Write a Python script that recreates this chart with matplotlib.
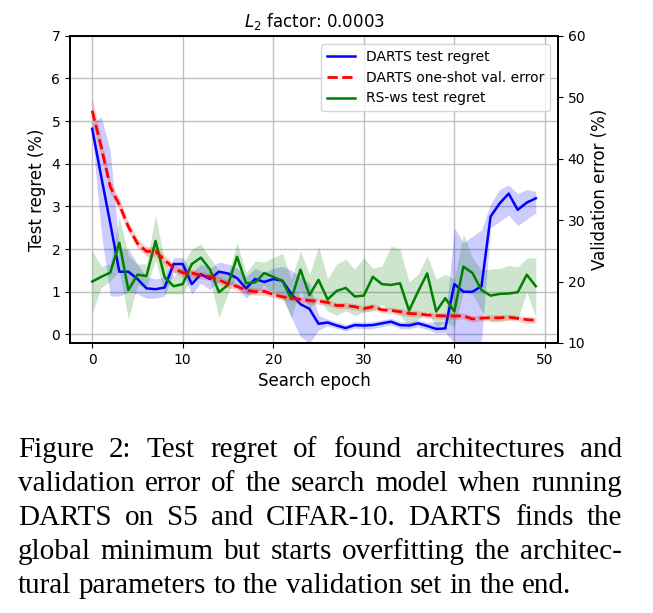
import numpy as np
import matplotlib
matplotlib.use('Agg')
import matplotlib.pyplot as plt

# epochs of the search
epochs = np.arange(50)

# DARTS test regret (%) with shaded band
darts_regret = [4.82, 3.70, 2.60, 1.47, 1.47, 1.30, 1.08, 1.06, 1.10, 1.65,
                1.65, 1.18, 1.41, 1.30, 1.47, 1.43, 1.32, 1.08, 1.30, 1.23,
                1.30, 1.26, 0.95, 0.71, 0.60, 0.25, 0.28, 0.21, 0.15, 0.22,
                0.21, 0.22, 0.26, 0.30, 0.22, 0.21, 0.26, 0.20, 0.13, 0.14,
                1.18, 1.00, 1.00, 1.13, 2.76, 3.07, 3.30, 2.92, 3.09, 3.19]
darts_lo = [4.70, 2.40, 0.90, 0.90, 1.00, 0.95, 0.85, 0.85, 0.90, 1.45,
            1.45, 0.95, 1.20, 1.05, 1.25, 1.20, 1.10, 0.85, 1.05, 1.00,
            1.05, 0.90, 0.40, -0.05, -0.20, 0.10, 0.20, 0.14, 0.08, 0.15,
            0.13, 0.14, 0.18, 0.22, 0.14, 0.13, 0.18, 0.12, 0.03, 0.05,
            -0.20, -0.20, -0.20, -0.15, 2.50, 2.65, 2.80, 2.55, 2.70, 2.85]
darts_hi = [4.95, 5.10, 4.30, 2.00, 2.00, 1.65, 1.35, 1.30, 1.35, 1.80,
            1.80, 1.45, 1.65, 1.55, 1.70, 1.65, 1.55, 1.35, 1.55, 1.45,
            1.55, 1.60, 1.50, 1.35, 1.20, 0.45, 0.36, 0.29, 0.23, 0.30,
            0.29, 0.30, 0.34, 0.38, 0.30, 0.29, 0.34, 0.28, 0.30, 0.30,
            2.50, 2.15, 2.30, 2.45, 3.05, 3.40, 3.50, 3.30, 3.40, 3.35]

# DARTS one-shot validation error (%), right axis
val_err = [47.8, 41.9, 35.4, 32.5, 28.9, 26.2, 24.9, 24.9, 23.5, 22.2,
           21.4, 21.4, 21.0, 20.8, 20.25, 19.6, 19.2, 18.6, 18.35, 18.4,
           17.9, 17.5, 17.3, 17.1, 16.9, 16.8, 16.6, 16.1, 16.1, 15.9,
           15.6, 15.9, 15.4, 15.3, 15.1, 14.8, 14.75, 14.55, 14.45, 14.4,
           14.4, 14.4, 13.9, 14.05, 14.1, 14.1, 14.2, 14.0, 13.8, 13.7]
val_spread = [2.0, 1.5, 1.0, 1.0, 0.9, 0.8, 0.8, 0.8, 0.8, 0.7,
              0.6, 0.6, 0.6, 0.6, 0.6, 0.6, 0.6, 0.6, 0.6, 0.6,
              0.5, 0.5, 0.5, 0.5, 0.5, 0.5, 0.5, 0.5, 0.5, 0.5,
              0.5, 0.5, 0.5, 0.5, 0.5, 0.5, 0.5, 0.5, 0.5, 0.5,
              0.5, 0.5, 0.5, 0.5, 0.5, 0.5, 0.5, 0.5, 0.5, 0.5]

# RS-ws test regret (%)
rs_regret = [1.24, 1.35, 1.45, 2.15, 1.04, 1.40, 1.37, 2.19, 1.34, 1.13,
             1.18, 1.65, 1.80, 1.53, 0.99, 1.16, 1.82, 1.20, 1.22, 1.44,
             1.35, 1.26, 0.83, 1.52, 0.92, 1.28, 0.82, 1.02, 1.09, 0.89,
             0.91, 1.35, 1.18, 1.16, 1.20, 0.56, 1.01, 1.43, 0.54, 0.85,
             0.54, 1.59, 1.44, 1.04, 0.91, 0.95, 0.96, 0.99, 1.40, 1.13]
rs_lo = [0.50, 1.10, 1.25, 1.50, 0.35, 1.15, 1.10, 1.75, 0.95, 0.95,
         0.95, 1.30, 1.40, 1.30, 0.40, 0.95, 1.40, 0.95, 0.95, 1.15,
         0.95, 0.85, 0.40, 1.05, 0.60, 0.85, 0.55, 0.45, 0.55, 0.45,
         0.52, 0.55, 0.70, 0.55, 0.45, 0.17, 0.35, 0.55, 0.17, 0.30,
         0.17, 1.00, 0.95, 0.55, 0.30, 0.30, 0.35, 0.35, 1.00, 0.40]
rs_hi = [1.96, 1.60, 1.65, 2.75, 1.85, 1.65, 1.65, 2.80, 1.70, 1.35,
         1.65, 2.00, 2.12, 1.80, 1.50, 1.40, 2.15, 1.45, 1.72, 1.70,
         1.80, 1.90, 1.30, 1.96, 1.40, 2.07, 1.30, 1.65, 1.76, 1.53,
         1.80, 1.55, 1.60, 2.07, 2.00, 1.23, 1.41, 1.85, 1.30, 1.41,
         1.30, 2.35, 1.80, 1.50, 1.53, 1.55, 1.62, 1.58, 1.79, 1.80]

caption = ["Figure 2:  Test regret of found architectures and",
           "validation error of the search model when running",
           "DARTS on S5 and CIFAR-10.  DARTS finds the",
           "global minimum but starts overfitting the architec-",
           "tural parameters to the validation set in the end."]

W, H = 653, 613
fig = plt.figure(figsize=(W / 100, H / 100), dpi=100)
ax = fig.add_axes([70 / W, 1 - 343 / H, 488 / W, 307.3 / H])
ax2 = ax.twinx()

val = np.array(val_err)
spr = np.array(val_spread)

ax.fill_between(epochs, darts_lo, darts_hi, color='blue', alpha=0.2, lw=0)
ax.fill_between(epochs, rs_lo, rs_hi, color='green', alpha=0.2, lw=0)
l1, = ax.plot(epochs, darts_regret, color='blue', lw=1.8)
l3, = ax.plot(epochs, rs_regret, color='green', lw=1.8)
ax2.fill_between(epochs, val - spr, val + spr, color='red', alpha=0.2, lw=0)
l2, = ax2.plot(epochs, val, color='red', lw=2, ls='--')

ax.set_ylim(-0.2, 7)
ax2.set_ylim(10, 60)
ax.set_xlim(-2.45, 51.45)
ax.set_xticks([0, 10, 20, 30, 40, 50])
ax.grid(True, color='#c0c0c0', lw=1)
ax.set_axisbelow(True)
for a in (ax, ax2):
    a.tick_params(labelsize=10)
    for s in a.spines.values():
        s.set_linewidth(1.3)

ax.set_xlabel('Search epoch', fontsize=12)
ax.set_ylabel('Test regret (%)', fontsize=12)
ax2.set_ylabel('Validation error (%)', fontsize=12)
ax.set_title('$L_2$ factor: 0.0003', fontsize=12)

ax2.legend([l1, l2, l3], ['DARTS test regret', 'DARTS one-shot val. error',
                          'RS-ws test regret'], loc='upper right', fontsize=10,
           borderaxespad=0.6)

# caption, justified like the paper
fig.canvas.draw()
r = fig.canvas.get_renderer()
x0, x1 = 18, 622
fs = 21
ys = [457, 491, 525, 559, 593]
for i, line in enumerate(caption):
    words = line.split()
    ts = [fig.text(0, 1 - ys[i] / H, w, fontsize=fs, family='Liberation Serif', va='baseline')
          for w in words]
    widths = [t.get_window_extent(r).width for t in ts]
    if i < len(caption) - 1:
        gap = (x1 - x0 - sum(widths)) / (len(words) - 1)
    else:
        gap = fs * 100 / 72 * 0.25
    x = x0
    for t, w in zip(ts, widths):
        t.set_x(x / W)
        x += w + gap

fig.savefig('out.png', dpi=100)
